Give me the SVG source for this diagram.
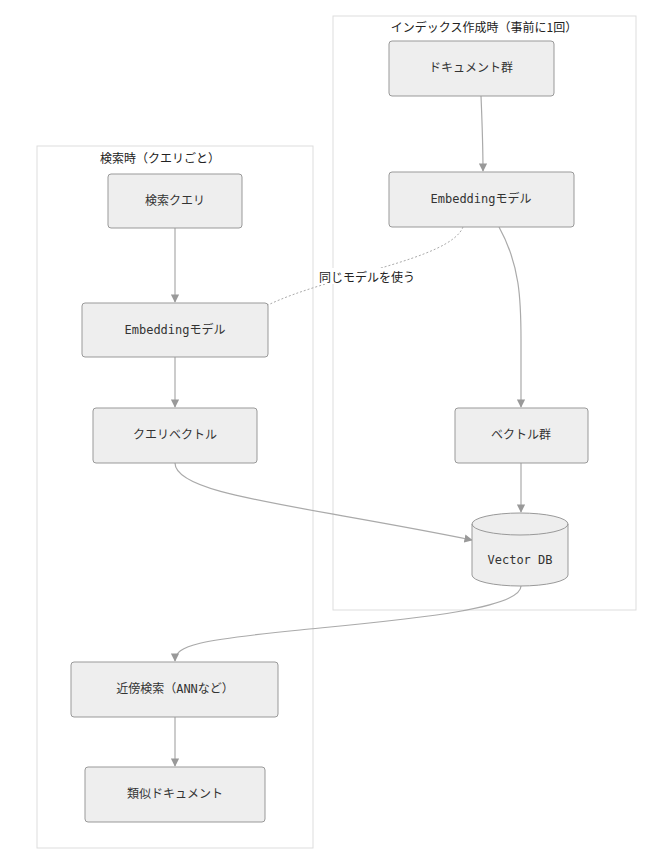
<svg xmlns="http://www.w3.org/2000/svg" width="669" height="863" viewBox="0 0 669 863">
<style>
.cl{fill:#fff;stroke:#ddd;stroke-width:1}
.n{fill:#eee;stroke:#999;stroke-width:1}
.t{font-family:"DejaVu Sans Mono","Noto Sans CJK JP",monospace;font-size:12px;fill:#333;text-anchor:middle;dominant-baseline:central}
.ct{font-family:"Noto Sans CJK JP",sans-serif;font-size:12px;fill:#222;text-anchor:middle;dominant-baseline:central}
.e{fill:none;stroke:#aaa;stroke-width:1.2;marker-end:url(#a)}
</style>
<defs><marker id="a" viewBox="0 0 10 10" refX="9" refY="5" markerWidth="7" markerHeight="7" orient="auto"><path d="M0,0L10,5L0,10z" fill="#999"/></marker></defs>
<g id="cluster-search"><rect class="cl" x="37" y="146" width="276" height="702"/><text class="ct" x="160" y="157">検索時（クエリごと）</text></g>
<g id="cluster-index"><rect class="cl" x="333" y="16" width="303" height="594"/><text class="ct" x="484" y="26">インデックス作成時（事前に1回）</text></g>
<g id="edges">
<path class="e" d="M481,96 C482,120 483,145 483,171"/>
<path class="e" d="M499,227 C520,265 521,300 521,340 L521,407"/>
<path class="e" d="M521,463 L521,512"/>
<path class="e" d="M175,228 L175,302"/>
<path class="e" d="M175,357 L175,407"/>
<path class="e" d="M175,463 C175,495 300,505 472,540"/>
<path class="e" d="M521,586 C521,610 400,620 300,630 C200,640 175,645 175,661"/>
<path class="e" d="M175,717 L175,766"/>
<path d="M463,227 C450,260 330,275 268,305" fill="none" stroke="#aaa" stroke-width="1" stroke-dasharray="2,2"/>
<rect x="314" y="268" width="106" height="16" fill="#fff"/>
<text class="ct" x="367" y="276">同じモデルを使う</text>
</g>
<g id="n-docs"><rect class="n" x="389" y="41" width="165" height="55" rx="3"/><text class="t" x="471" y="68">ドキュメント群</text></g>
<g id="n-emb-r"><rect class="n" x="389" y="172" width="185" height="55" rx="3"/><text class="t" x="481" y="199">Embeddingモデル</text></g>
<g id="n-vecs"><rect class="n" x="455" y="408" width="133" height="55" rx="3"/><text class="t" x="521" y="435">ベクトル群</text></g>
<g id="n-db"><path class="n" d="M472,524 A48,11 0 0 1 568,524 L568,575 A48,11 0 0 1 472,575 Z"/><path d="M472,524 A48,11 0 0 0 568,524" fill="none" stroke="#999"/><text class="t" x="520" y="560">Vector DB</text></g>
<g id="n-query"><rect class="n" x="108" y="174" width="134" height="54" rx="3"/><text class="t" x="175" y="201">検索クエリ</text></g>
<g id="n-emb-l"><rect class="n" x="82" y="303" width="186" height="54" rx="3"/><text class="t" x="175" y="330">Embeddingモデル</text></g>
<g id="n-qvec"><rect class="n" x="93" y="408" width="164" height="55" rx="3"/><text class="t" x="175" y="435">クエリベクトル</text></g>
<g id="n-ann"><rect class="n" x="71" y="662" width="207" height="55" rx="3"/><text class="t" x="175" y="689">近傍検索（ANNなど）</text></g>
<g id="n-sim"><rect class="n" x="85" y="767" width="180" height="55" rx="3"/><text class="t" x="175" y="794">類似ドキュメント</text></g>
</svg>
